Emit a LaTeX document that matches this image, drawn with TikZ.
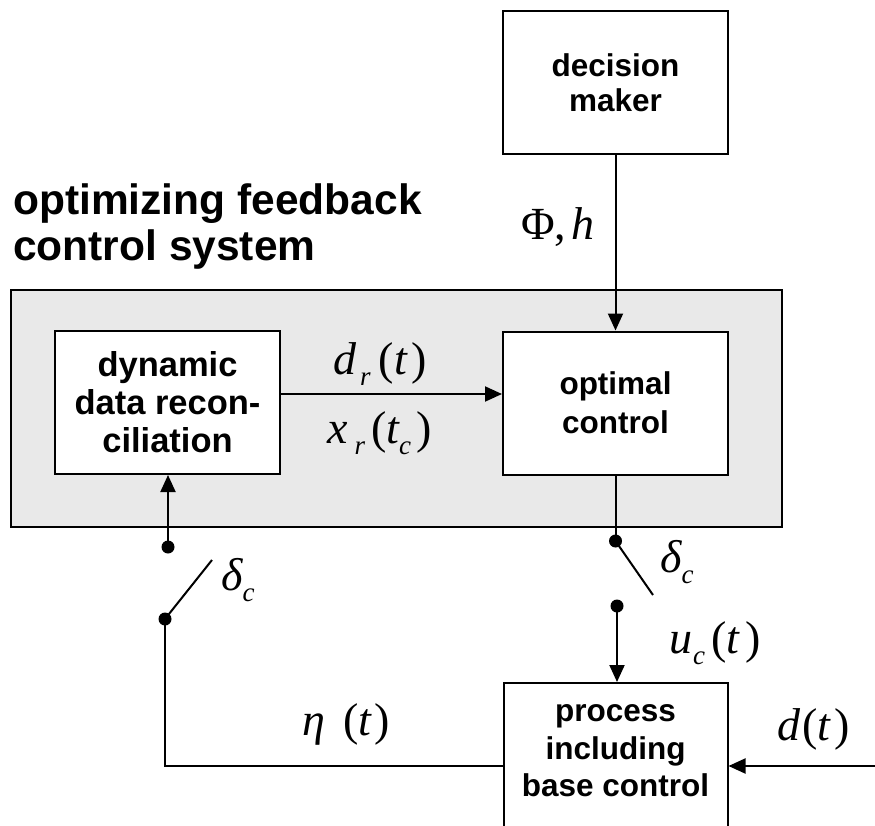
\documentclass[tikz,border=0pt]{standalone}
\usepackage{fontspec}
\setmainfont{Liberation Sans}
\newfontfamily\tnr{Liberation Serif}
\usetikzlibrary{arrows.meta}

\definecolor{sysgray}{RGB}{233,233,233}

% italic variable and lowered subscript for the signal labels
\newcommand\mv[1]{{\itshape #1}}
\newcommand\sbs[1]{\raisebox{-11pt}{\fontsize{27}{27}\selectfont\itshape #1}}

\tikzset{
  blk/.style={draw, line width=2pt, fill=white, minimum width=225pt,
    minimum height=143pt, inner sep=0pt, align=center,
    font=\fontsize{31.5}{35}\selectfont\bfseries},
  wire/.style={line width=2pt},
  arr/.style={line width=2pt, -{Triangle[length=17pt,width=15pt]}},
  jdot/.style={circle, fill=black, inner sep=0pt, minimum size=13pt},
  lbl/.style={inner sep=0pt, anchor=base west, font=\tnr\fontsize{46}{46}\selectfont},
  ttl/.style={inner sep=0pt, anchor=base west, font=\fontsize{42.5}{47}\selectfont\bfseries},
}

\begin{document}
\begin{tikzpicture}[x=1pt,y=-1pt]
\useasboundingbox (0,0) rectangle (875,826);
\clip (0,0) rectangle (875,826);

% enclosing optimizing feedback control system
\node[draw, line width=2pt, fill=sysgray, minimum width=771pt,
  minimum height=237pt, inner sep=0pt] (sys) at (396.5,408.5) {};
\node[ttl] (title1) at (13,215) {optimizing feedback};
\node[ttl] (title2) at (13,261) {control system};

% blocks
\node[blk] (dm) at (615.5,82.5) {decision\\maker};
\node[blk, font=\fontsize{34.5}{38}\selectfont\bfseries] (ddr) at (167.5,402.5)
  {dynamic\\data recon-\\ciliation};
\node[blk, font=\fontsize{31.5}{39}\selectfont\bfseries] (oc) at (615.5,403)
  {optimal\\control};
\node[draw, line width=2pt, fill=white, minimum width=224pt,
  minimum height=180pt, inner sep=0pt] (proc) at (615.5,773) {};
\node[align=center, inner sep=0pt, font=\fontsize{31.5}{37.5}\selectfont\bfseries]
  (proctext) at (615.5,751) {process\\including\\base control};

% switches
\node[jdot] (a1) at (168,547) {};
\node[jdot] (a2) at (165,619) {};
\coordinate (ae) at (212,560);
\node[jdot] (b1) at (615.5,541) {};
\node[jdot] (b2) at (617,606) {};
\coordinate (be) at (653,595);
\coordinate (fb) at (165,766);
\coordinate (dsrc) at (876,766);

% connectors
\draw[arr] (dm.south) -- (oc.north);
\draw[arr] ([yshift=8.5pt]ddr.east) -- ([yshift=9pt]oc.west);
\draw[wire] (oc.south) -- (b1.center);
\draw[wire] (b1.center) -- (be);
\draw[arr] (b2.center) -- (b2.center |- proc.north);
\draw[arr] (dsrc) -- (proc.east |- dsrc);
\draw[wire] (proc.west |- fb) -- (fb) -- (a2.center);
\draw[wire] (a2.center) -- (ae);
\draw[arr] (a1.center) -- (a1.center |- ddr.south);

% signal labels
\node[lbl] (lphi) at (521,240) {Φ,\kern5pt\mv{h}};
\node[lbl] (ldr) at (333,374) {\mv{d}\kern4pt\sbs{r}\kern8pt(\mv{t}\kern5pt)};
\node[lbl] (lxr) at (327,443) {\mv{x}\kern7pt\sbs{r}\kern6pt(\mv{t}\sbs{c}\kern5pt)};
\node[lbl] (ldl) at (221,590) {\mv{δ}\sbs{c}};
\node[lbl] (ldrt) at (660,572) {\mv{δ}\sbs{c}};
\node[lbl] (luc) at (669,653) {\mv{u}\kern1pt\sbs{c}\kern6pt(\mv{t}\kern6pt)};
\node[lbl] (ld) at (777,740) {\mv{d}\kern2pt(\mv{t}\kern4pt)};
\node[lbl] (leta) at (302,735) {\mv{η}\kern18pt(\mv{t}\kern3pt)};
\end{tikzpicture}
\end{document}
